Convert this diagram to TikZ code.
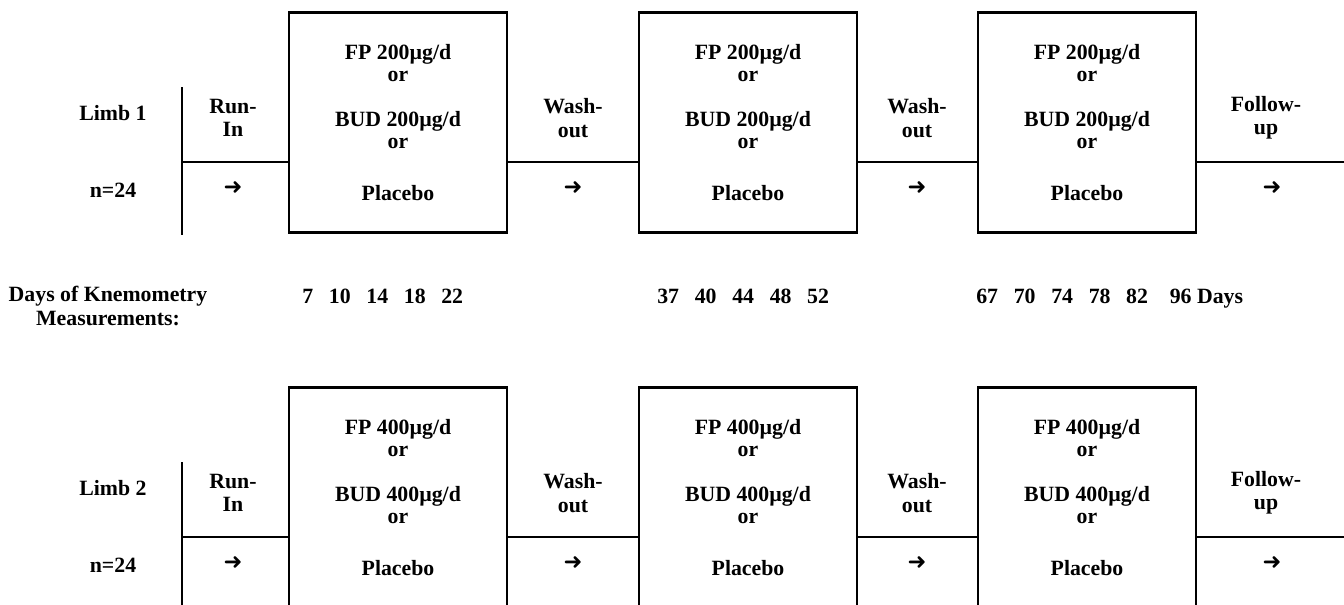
\documentclass[tikz,border=0pt]{standalone}
\usepackage{fontspec}
\setmainfont{Liberation Serif}
\newfontfamily\arrowfont{DejaVu Sans}
\newcommand{\dgap}{\hspace{0.72em}}
\tikzset{
  armbox/.style={draw, line width=2pt, minimum width=5.45cm, minimum height=5.5cm,
    inner sep=0pt, align=center, font=\bfseries\fontsize{15.5}{15.5}\selectfont},
  lbl/.style={align=center, inner sep=0pt, font=\bfseries\fontsize{15.5}{16.5}\selectfont},
  go/.style={inner sep=0pt, font=\arrowfont\fontsize{16}{16}\selectfont},
  link/.style={line width=2pt},
}
\begin{document}
\begin{tikzpicture}[x=0.025cm, y=-0.025cm]
\useasboundingbox (0,0) rectangle (1344,605);
\clip (0,0) rectangle (1344,605);

% Limb 1
\node[lbl] (limb1) at (113,113) {Limb 1};
\node[lbl] (n1) at (113,190) {n=24};
\draw[link] (182,87) -- (182,235);
\coordinate (split1) at (182,162);
\node[lbl] (run1) at (233,118) {Run-\\In};
\node[go] (go1a) at (233,188) {➜};
\node[armbox] (box1a) at (398,122.5) {FP 200µg/d\\or\\[0.575cm]BUD 200µg/d\\or\\[0.75cm]Placebo};
\node[lbl] (wash1a) at (573,118) {Wash-\\out};
\node[go] (go1b) at (573,188) {➜};
\node[armbox] (box1b) at (748,122.5) {FP 200µg/d\\or\\[0.575cm]BUD 200µg/d\\or\\[0.75cm]Placebo};
\node[lbl] (wash1b) at (917,118) {Wash-\\out};
\node[go] (go1c) at (917,188) {➜};
\node[armbox] (box1c) at (1087,122.5) {FP 200µg/d\\or\\[0.575cm]BUD 200µg/d\\or\\[0.75cm]Placebo};
\node[lbl] (follow1) at (1266,118) {Follow-\\up};
\node[go] (go1d) at (1272,188) {➜};
\coordinate (end1) at (1344,162);
\draw[link] (split1) -- (split1 -| box1a.west);
\draw[link] (box1a.east |- split1) -- (box1b.west |- split1);
\draw[link] (box1b.east |- split1) -- (box1c.west |- split1);
\draw[link] (box1c.east |- split1) -- (end1);

% Days of measurement
\node[lbl] (days) at (108,306) {Days of Knemometry\\Measurements:};
\node[lbl, anchor=base west] (days1) at (302,303) {7\dgap10\dgap14\dgap18\dgap22};
\node[lbl, anchor=base west] (days2) at (657,303) {37\dgap40\dgap44\dgap48\dgap52};
\node[lbl, anchor=base west] (days3) at (976,303) {67\dgap70\dgap74\dgap78\dgap82\hspace{1em}96 Days};

% Limb 2
\node[lbl] (limb2) at (113,488) {Limb 2};
\node[lbl] (n2) at (113,565) {n=24};
\draw[link] (182,462) -- (182,610);
\coordinate (split2) at (182,537);
\node[lbl] (run2) at (233,493) {Run-\\In};
\node[go] (go2a) at (233,563) {➜};
\node[armbox] (box2a) at (398,497.5) {FP 400µg/d\\or\\[0.575cm]BUD 400µg/d\\or\\[0.75cm]Placebo};
\node[lbl] (wash2a) at (573,493) {Wash-\\out};
\node[go] (go2b) at (573,563) {➜};
\node[armbox] (box2b) at (748,497.5) {FP 400µg/d\\or\\[0.575cm]BUD 400µg/d\\or\\[0.75cm]Placebo};
\node[lbl] (wash2b) at (917,493) {Wash-\\out};
\node[go] (go2c) at (917,563) {➜};
\node[armbox] (box2c) at (1087,497.5) {FP 400µg/d\\or\\[0.575cm]BUD 400µg/d\\or\\[0.75cm]Placebo};
\node[lbl] (follow2) at (1266,493) {Follow-\\up};
\node[go] (go2d) at (1272,563) {➜};
\coordinate (end2) at (1344,537);
\draw[link] (split2) -- (split2 -| box2a.west);
\draw[link] (box2a.east |- split2) -- (box2b.west |- split2);
\draw[link] (box2b.east |- split2) -- (box2c.west |- split2);
\draw[link] (box2c.east |- split2) -- (end2);

\end{tikzpicture}
\end{document}
